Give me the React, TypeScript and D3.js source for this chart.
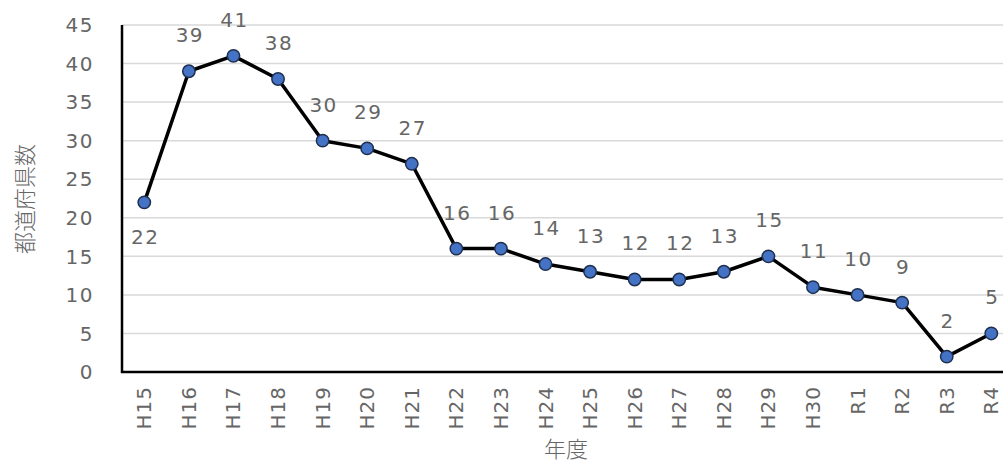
import React, { useEffect, useRef } from 'react'
import * as d3 from 'd3'

const years = ['H15', 'H16', 'H17', 'H18', 'H19', 'H20', 'H21', 'H22', 'H23', 'H24', 'H25', 'H26', 'H27', 'H28', 'H29', 'H30', 'R1', 'R2', 'R3', 'R4']
const counts = [22, 39, 41, 38, 30, 29, 27, 16, 16, 14, 13, 12, 12, 13, 15, 11, 10, 9, 2, 5]
const yTicks = [0, 5, 10, 15, 20, 25, 30, 35, 40, 45]

const W = 1003
const H = 464
const numFont = '"DejaVu Sans", Verdana, sans-serif'
const jpFont = '"Noto Sans CJK JP", sans-serif'

const App = () => {
  const ref = useRef<SVGSVGElement>(null)

  useEffect(() => {
    const svg = d3.select(ref.current)
    svg.selectAll('*').remove()

    const left = 122
    const step = 44.58
    const x = d3.scaleBand().domain(years).range([left, left + step * years.length])
    const y = d3.scaleLinear().domain([0, 45]).range([372, 25])
    const cx = (d: string) => (x(d) || 0) + x.bandwidth() / 2

    // grid
    svg.append('g')
      .selectAll('line')
      .data(yTicks.filter((t) => t > 0))
      .enter()
      .append('line')
      .attr('x1', left)
      .attr('x2', W)
      .attr('y1', (d) => y(d))
      .attr('y2', (d) => y(d))
      .attr('stroke', '#d9d9d9')
      .attr('stroke-width', 1.5)

    // y tick labels
    svg.append('g')
      .selectAll('text')
      .data(yTicks)
      .enter()
      .append('text')
      .attr('x', 94)
      .attr('y', (d) => y(d))
      .attr('dy', '0.36em')
      .attr('text-anchor', 'end')
      .attr('font-family', numFont)
      .attr('font-size', 20)
      .attr('letter-spacing', 1.5)
      .attr('fill', '#666')
      .text((d) => d)

    // x tick labels
    svg.append('g')
      .selectAll('text')
      .data(years)
      .enter()
      .append('text')
      .attr('transform', (d) => `translate(${cx(d) + 7},386) rotate(-90)`)
      .attr('text-anchor', 'end')
      .attr('font-family', numFont)
      .attr('font-size', 20)
      .attr('letter-spacing', 1)
      .attr('fill', '#666')
      .text((d) => d)

    // axes lines
    svg.append('line')
      .attr('x1', left).attr('x2', left)
      .attr('y1', y(45)).attr('y2', y(0) + 1)
      .attr('stroke', '#000').attr('stroke-width', 2.5)
    svg.append('line')
      .attr('x1', left - 1).attr('x2', W)
      .attr('y1', y(0)).attr('y2', y(0))
      .attr('stroke', '#000').attr('stroke-width', 2.5)

    // line
    const line = d3.line<number>()
      .x((_, i) => cx(years[i]))
      .y((d) => y(d))
    svg.append('path')
      .datum(counts)
      .attr('d', line)
      .attr('fill', 'none')
      .attr('stroke', '#000')
      .attr('stroke-width', 3.5)
      .attr('stroke-linejoin', 'round')

    svg.append('g')
      .selectAll('circle')
      .data(counts)
      .enter()
      .append('circle')
      .attr('cx', (_, i) => cx(years[i]))
      .attr('cy', (d) => y(d))
      .attr('r', 6.2)
      .attr('fill', '#4472c4')
      .attr('stroke', '#1f2f4f')
      .attr('stroke-width', 1.5)

    // value labels
    svg.append('g')
      .selectAll('text')
      .data(counts)
      .enter()
      .append('text')
      .attr('x', (_, i) => cx(years[i]) + 1)
      .attr('y', (d, i) => (i === 0 ? y(d) + 42 : y(d) - 29))
      .attr('text-anchor', 'middle')
      .attr('font-family', numFont)
      .attr('font-size', 20)
      .attr('letter-spacing', 1.5)
      .attr('fill', '#666')
      .text((d) => d)

    // axis titles
    svg.append('text')
      .attr('transform', `translate(33,199) rotate(-90)`)
      .attr('text-anchor', 'middle')
      .attr('font-family', jpFont)
      .attr('font-size', 22)
      .attr('font-weight', 300)
      .attr('fill', '#666')
      .text('都道府県数')
    svg.append('text')
      .attr('x', 566)
      .attr('y', 457)
      .attr('text-anchor', 'middle')
      .attr('font-family', jpFont)
      .attr('font-size', 22)
      .attr('font-weight', 300)
      .attr('fill', '#666')
      .text('年度')
  }, [])

  return (
    <svg
      ref={ref}
      width={W}
      height={H}
      style={{ position: 'absolute', left: 0, top: 0, background: '#fff' }}
    />
  )
}

export default App
